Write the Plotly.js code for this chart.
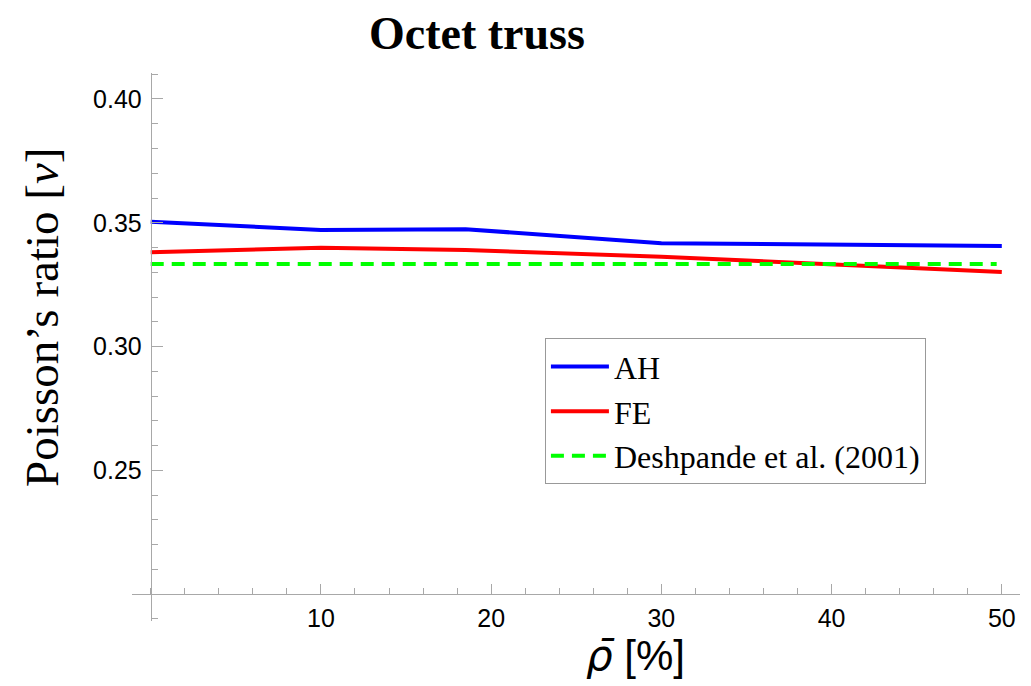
<!DOCTYPE html>
<html>
<head>
<meta charset="utf-8">
<script src="https://cdn.plot.ly/plotly-3.0.1.min.js"></script>
<style>html,body{margin:0;padding:0;background:#fff;}#chart{width:1031px;height:686px;}</style>
</head>
<body>
<div id="chart"></div>
<script>
// Data
const density = [0, 10, 18.5, 30, 50];            // relative density [%]
const nuAH = [0.3504, 0.3471, 0.3474, 0.3417, 0.3406];
const nuFE = [0.3381, 0.3399, 0.3390, 0.3363, 0.3301];
const refX = [0, 49.7];
const nuRef = [1/3, 1/3];                           // Deshpande et al. (2001)
const seriesNames = ['AH', 'FE', 'Deshpande et al. (2001)'];
const xTicks = [10, 20, 30, 40, 50];
const yTicks = [0.25, 0.30, 0.35, 0.40];
const yTickText = ['0.25', '0.30', '0.35', '0.40'];

const xRange = [-1.1, 51.07];
const yRange = [0.1891, 0.4105];
const xCross = 0, yCross = 0.2;

const serif = 'Liberation Serif';
const sans = 'Liberation Sans';
const axisColor = '#a8a8a8';
const traces = [
  {x: density, y: nuAH, name: seriesNames[0], mode: 'lines', line: {color: '#0000ff', width: 4}},
  {x: density, y: nuFE, name: seriesNames[1], mode: 'lines', line: {color: '#ff0000', width: 4}},
  {x: refX, y: nuRef, name: seriesNames[2], mode: 'lines', line: {color: '#00ff00', width: 4, dash: '13px,8px'}}
];

const layout = {
  width: 1031, height: 686,
  margin: {l: 132, r: 11, t: 73, b: 65},
  paper_bgcolor: '#fff', plot_bgcolor: '#fff',
  showlegend: true,
  legend: {
    x: 0.465, y: 0.516, xanchor: 'left', yanchor: 'top',
    bgcolor: '#fff', bordercolor: '#999', borderwidth: 1,
    font: {family: serif, size: 32, color: '#000'},
    tracegroupgap: 0, itemwidth: 58
  },
  xaxis: {
    range: xRange, anchor: 'free',
    position: (yCross - yRange[0]) / (yRange[1] - yRange[0]),
    showgrid: false, zeroline: false, showline: true, linecolor: axisColor, linewidth: 1,
    tickmode: 'array', tickvals: xTicks, ticktext: xTicks.map(String),
    ticks: 'inside', ticklen: 10, tickcolor: axisColor, tickwidth: 1,
    tickfont: {family: sans, size: 25, color: '#000'},
    ticklabelstandoff: 2,
    minor: {dtick: 2, tick0: 0, ticks: 'inside', ticklen: 6, tickcolor: axisColor, showgrid: false}
  },
  yaxis: {
    range: yRange, anchor: 'free',
    position: (xCross - xRange[0]) / (xRange[1] - xRange[0]),
    showgrid: false, zeroline: false, showline: true, linecolor: axisColor, linewidth: 1,
    tickmode: 'array', tickvals: yTicks, ticktext: yTickText,
    ticks: 'inside', ticklen: 11, tickcolor: axisColor, tickwidth: 1,
    tickfont: {family: sans, size: 25, color: '#000'},
    ticklabelstandoff: 4,
    minor: {dtick: 0.01, tick0: 0, ticks: 'inside', ticklen: 6, tickcolor: axisColor, showgrid: false}
  },
  annotations: [
    {text: '<b>Octet truss</b>', xref: 'paper', yref: 'paper',
     x: (477 - 132) / 888, y: 1 + (73 - 33) / 548, xanchor: 'center', yanchor: 'middle',
     showarrow: false, font: {family: serif, size: 46, color: '#000'}},
    {text: 'Poisson\u2019s ratio [<i>ν</i>]', xref: 'paper', yref: 'paper',
     x: -(132 - 42) / 888, y: (621 - 318) / 548, xanchor: 'center', yanchor: 'middle', textangle: -90,
     showarrow: false, font: {family: serif, size: 47, color: '#000'}},
    {text: '<span style="font-family:DejaVu Sans"><i>ρ\u0304</i></span> [%]', xref: 'paper', yref: 'paper',
     x: (635 - 132) / 888, y: -(682 - 621) / 548, xanchor: 'center', yanchor: 'bottom',
     showarrow: false, font: {family: sans, size: 42, color: '#000'}}
  ]
};

Plotly.newPlot('chart', traces, layout, {displayModeBar: false, staticPlot: true});
</script>
</body>
</html>
